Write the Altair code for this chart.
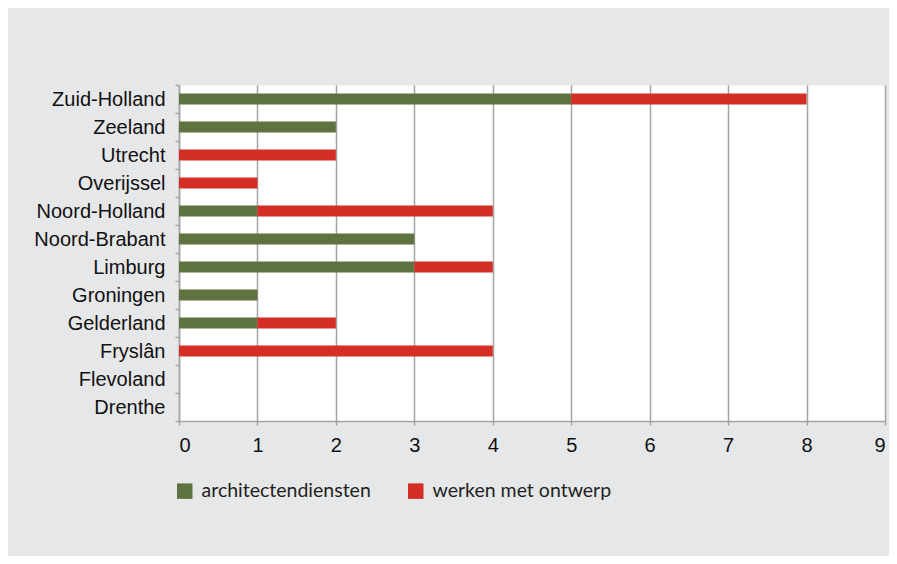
import altair as alt
import pandas as pd

provinces = ["Zuid-Holland", "Zeeland", "Utrecht", "Overijssel", "Noord-Holland",
             "Noord-Brabant", "Limburg", "Groningen", "Gelderland", "Fryslân",
             "Flevoland", "Drenthe"]
architectendiensten = [5, 2, 0, 0, 1, 3, 3, 1, 1, 0, 0, 0]
werken_met_ontwerp = [3, 0, 2, 1, 3, 0, 1, 0, 1, 4, 0, 0]
series = ["architectendiensten", "werken met ontwerp"]
colors = ["#5e7340", "#d42e27"]
x_ticks = [0, 1, 2, 3, 4, 5, 6, 7, 8, 9]

rows = []
for p, a, w in zip(provinces, architectendiensten, werken_met_ontwerp):
    rows.append({"provincie": p, "serie": series[0], "waarde": a, "volgorde": 0})
    rows.append({"provincie": p, "serie": series[1], "waarde": w, "volgorde": 1})
df = pd.DataFrame(rows)

grey = "#a3a3a3"

chart = alt.Chart(df).mark_bar(size=11).encode(
    y=alt.Y("provincie:N", sort=provinces, title=None,
            scale=alt.Scale(paddingInner=0, paddingOuter=0),
            axis=alt.Axis(tickBand="extent", tickSize=4, tickColor=grey, tickWidth=1.5,
                          domainColor=grey, domainWidth=1.5, labelPadding=10,
                          labelFont="Liberation Sans", labelFontSize=20, labelColor="#111111",
                          grid=False)),
    x=alt.X("waarde:Q", stack="zero", title=None,
            scale=alt.Scale(domain=[0, 9], nice=False),
            axis=alt.Axis(values=x_ticks, grid=True, gridColor=grey, gridWidth=1.5,
                          tickSize=4, tickColor=grey, tickWidth=1.5,
                          domainColor=grey, domainWidth=1.5, labelPadding=10,
                          labelFont="Liberation Sans", labelFontSize=20, labelColor="#111111")),
    color=alt.Color("serie:N", scale=alt.Scale(domain=series, range=colors),
                    legend=alt.Legend(orient="none", direction="horizontal", legendX=-4, legendY=396,
                                      title=None, symbolType="square", symbolSize=240,
                                      symbolStrokeWidth=0, labelFont="Lato", labelFontSize=19.5,
                                      labelLimit=400, labelColor="#231f20", labelOffset=7,
                                      columnPadding=35)),
    order=alt.Order("volgorde:Q"),
).properties(
    width=706, height=336, background="#e6e7e9",
    padding={"left": 171, "top": 77, "right": 4, "bottom": 135},
    autosize=alt.AutoSizeParams(type="none"),
).configure_view(fill="white", stroke="transparent")

chart.save("out.html", embed_options={"renderer": "svg", "actions": False})
